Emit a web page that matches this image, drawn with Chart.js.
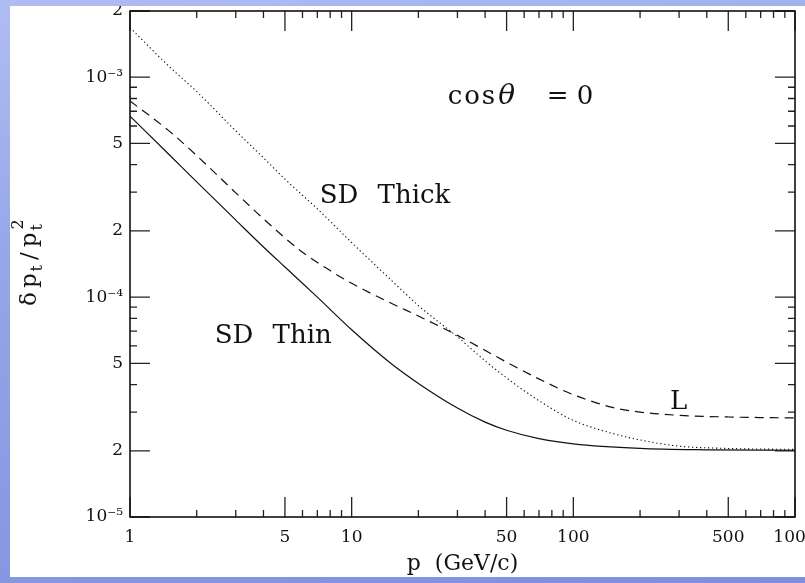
<!DOCTYPE html>
<html><head><meta charset="utf-8">
<script src="https://cdn.jsdelivr.net/npm/chart.js@4.4.1/dist/chart.umd.min.js"></script>
<style>
html,body{margin:0;padding:0;width:805px;height:583px;overflow:hidden;
background:linear-gradient(170deg,#b0bdf3 0%,#97a6e9 35%,#7f8fdc 100%);}
#wrap{position:absolute;left:10px;top:6px;width:795px;height:571px;background:#fff;}
</style></head><body>
<div id="wrap"><canvas id="c"></canvas></div>
<script>
// ---- data ----
const thinP = [1, 1.5, 2, 3, 4, 5, 7, 10, 15, 20, 30, 40, 50, 70, 100, 200, 400, 1000];
const thinV = [6.65e-4, 4.45e-4, 3.34e-4, 2.24e-4, 1.69e-4, 1.37e-4, 1.0e-4, 7.1e-5, 5.0e-5, 4.05e-5, 3.13e-5, 2.7e-5, 2.48e-5, 2.27e-5, 2.15e-5, 2.05e-5, 2.02e-5, 2.01e-5];

const lP = [1, 1.5, 2, 3, 4, 6, 8, 10, 15, 20, 30, 50, 75, 100, 150, 200, 300, 500, 1000];
const lV = [7.8e-4, 5.7e-4, 4.4e-4, 2.98e-4, 2.27e-4, 1.6e-4, 1.32e-4, 1.155e-4, 9.4e-5, 8.2e-5, 6.7e-5, 5.06e-5, 4.1e-5, 3.6e-5, 3.15e-5, 3.0e-5, 2.9e-5, 2.85e-5, 2.82e-5];

const thickP = [1, 1.5, 2, 3, 4, 5, 7, 10, 15, 20, 30, 40, 50, 70, 100, 150, 200, 300, 500, 1000];
const thickV = [1.68e-3, 1.12e-3, 8.6e-4, 5.7e-4, 4.3e-4, 3.44e-4, 2.52e-4, 1.77e-4, 1.2e-4, 9.15e-5, 6.6e-5, 5.13e-5, 4.29e-5, 3.38e-5, 2.75e-5, 2.4e-5, 2.24e-5, 2.1e-5, 2.05e-5, 2.03e-5];

const xTickValues = [1, 5, 10, 50, 100, 500, 1000];
const xTickLabels = ['1', '5', '10', '50', '100', '500', '1000'];
const xMinorTicks = [2,3,4,6,7,8,9,20,30,40,60,70,80,90,200,300,400,600,700,800,900];
const yTickValues = [1e-5, 2e-5, 5e-5, 1e-4, 2e-4, 5e-4, 1e-3, 2e-3];
const yTickLabels = ['10\u207B\u2075', '2', '5', '10\u207B\u2074', '2', '5', '10\u207B\u00B3', '2'];
const yMinorTicks = [3e-5,4e-5,6e-5,7e-5,8e-5,9e-5,3e-4,4e-4,6e-4,7e-4,8e-4,9e-4];

const annoText = ['SD Thick', 'SD Thin', 'L'];
const annoP = [7.17, 2.41, 272.7];
const annoV = [2.67e-4, 6.16e-5, 3.09e-5];
const condP = 27.1, condV = 7.59e-4;

const FONT = "'DejaVu Serif', serif";
const findLabel = (vals, labels, v) => {
  const i = vals.findIndex(t => Math.abs(t - v) / t < 1e-6);
  return i < 0 ? '' : labels[i];
};

const decor = {
  id: 'decor',
  afterDatasetsDraw(chart) {
    const {ctx, chartArea: a, scales: {x, y}} = chart;
    ctx.save();
    ctx.strokeStyle = '#222';
    ctx.lineWidth = 1.3;
    const LONG = 20, SHORT = 7;
    const tx = (v, len) => {
      const px = x.getPixelForValue(v);
      ctx.beginPath();
      ctx.moveTo(px, a.bottom); ctx.lineTo(px, a.bottom - len);
      ctx.moveTo(px, a.top); ctx.lineTo(px, a.top + len);
      ctx.stroke();
    };
    const ty = (v, len) => {
      const py = y.getPixelForValue(v);
      ctx.beginPath();
      ctx.moveTo(a.left, py); ctx.lineTo(a.left + len, py);
      ctx.moveTo(a.right, py); ctx.lineTo(a.right - len, py);
      ctx.stroke();
    };
    xTickValues.forEach(v => tx(v, LONG));
    xMinorTicks.forEach(v => tx(v, SHORT));
    yTickValues.forEach(v => ty(v, LONG));
    yMinorTicks.forEach(v => ty(v, SHORT));
    ctx.lineWidth = 1.6;
    ctx.strokeStyle = '#111';
    ctx.strokeRect(a.left, a.top, a.right - a.left, a.bottom - a.top);

    // annotations
    ctx.fillStyle = '#111';
    ctx.textBaseline = 'alphabetic';
    ctx.textAlign = 'left';
    ctx.font = '26px ' + FONT;
    ctx.wordSpacing = '11px';
    annoText.forEach((t, i) => {
      ctx.fillText(t, x.getPixelForValue(annoP[i]), y.getPixelForValue(annoV[i]));
    });
    ctx.wordSpacing = '0px';
    // cos(theta) = 0
    const cx = x.getPixelForValue(condP), cy = y.getPixelForValue(condV);
    ctx.font = '26px ' + FONT;
    ctx.letterSpacing = '2px';
    ctx.fillText('cos', cx, cy);
    const wc = ctx.measureText('cos').width;
    ctx.letterSpacing = '0px';
    ctx.font = 'italic 28px ' + FONT;
    ctx.fillText('\u03B8', cx + wc + 1, cy);
    ctx.font = '26px ' + FONT;
    ctx.fillText('=', cx + 99, cy);
    ctx.fillText('0', cx + 129, cy);

    // y axis title: δp_t / p_t^2
    ctx.save();
    ctx.translate(26, 259);
    ctx.rotate(-Math.PI / 2);
    const big = '23px ' + FONT, small = '16px ' + FONT;
    const parts = [
      ['\u03B4', big, 0, 4], ['p', big, 0, 2], ['t', small, 6, 5], ['/', big, 0, 5], ['p', big, 0, 2], ['t', small, 6, 0]
    ];
    let total = 0;
    parts.forEach(p => { ctx.font = p[1]; total += ctx.measureText(p[0]).width + p[3]; });
    let px = -total / 2;
    let lastX = 0;
    parts.forEach(p => {
      ctx.font = p[1];
      lastX = px;
      ctx.fillText(p[0], px, p[2]);
      px += ctx.measureText(p[0]).width + p[3];
    });
    ctx.font = small;
    ctx.fillText('2', lastX + 1, -13);
    ctx.restore();
    ctx.restore();
  }
};

const mk = (P, V) => P.map((p, i) => ({x: p, y: V[i]}));

new Chart(document.getElementById('c'), {
  type: 'line',
  data: {
    datasets: [
      {label: 'SD Thin', data: mk(thinP, thinV), borderColor: '#111', borderWidth: 1.2,
       pointRadius: 0, cubicInterpolationMode: 'monotone', fill: false},
      {label: 'L', data: mk(lP, lV), borderColor: '#111', borderWidth: 1.2, borderDash: [9, 6],
       pointRadius: 0, cubicInterpolationMode: 'monotone', fill: false},
      {label: 'SD Thick', data: mk(thickP, thickV), borderColor: '#111', borderWidth: 1.1, borderDash: [1.3, 2.7],
       pointRadius: 0, cubicInterpolationMode: 'monotone', fill: false}
    ]
  },
  options: {
    responsive: true,
    maintainAspectRatio: false,
    animation: false,
    events: [],
    layout: {padding: {left: 0, top: 5, right: 10, bottom: 0}},
    plugins: {legend: {display: false}, tooltip: {enabled: false}},
    scales: {
      x: {
        type: 'logarithmic', min: 1, max: 1000,
        grid: {display: false, drawTicks: false},
        border: {display: false},
        afterBuildTicks: s => { s.ticks = xTickValues.map(v => ({value: v})); },
        afterFit: s => { s.height = 60; s.paddingLeft = 0; s.paddingRight = 0; },
        ticks: {autoSkip: false, maxRotation: 0, padding: 10, color: '#111',
          font: {family: FONT, size: 17},
          callback: v => findLabel(xTickValues, xTickLabels, v)},
        title: {display: true, text: 'p  (GeV/c)', color: '#111',
          font: {family: FONT, size: 22}, padding: {top: 0, bottom: 0}}
      },
      y: {
        type: 'logarithmic', min: 1e-5, max: 2e-3,
        grid: {display: false, drawTicks: false},
        border: {display: false},
        afterBuildTicks: s => { s.ticks = yTickValues.map(v => ({value: v})); },
        afterFit: s => { s.width = 120; s.paddingTop = 0; s.paddingBottom = 0; },
        ticks: {autoSkip: false, padding: 7, color: '#111',
          font: {family: FONT, size: 17},
          callback: v => findLabel(yTickValues, yTickLabels, v)}
      }
    }
  },
  plugins: [decor]
});
</script>
</body></html>
